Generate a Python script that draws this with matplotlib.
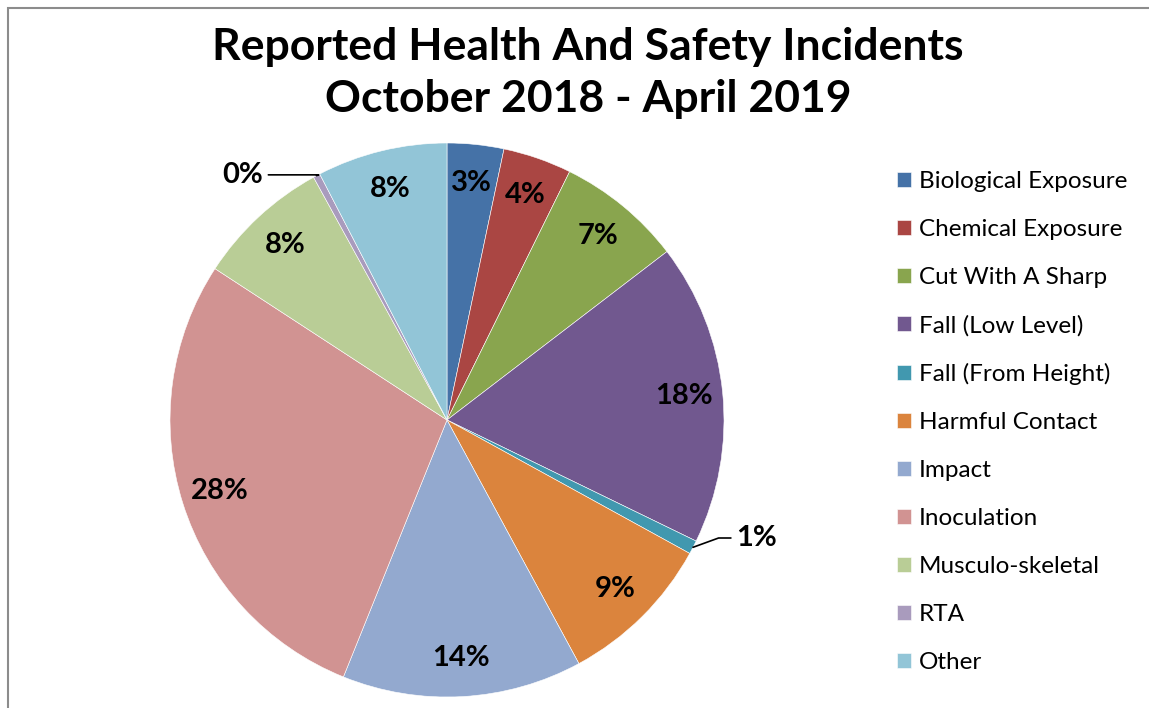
import numpy as np
import matplotlib
matplotlib.use("Agg")
import matplotlib.pyplot as plt
from matplotlib.patches import Rectangle

plt.rcParams['font.family'] = ['Lato', 'DejaVu Sans']

categories = ["Biological Exposure", "Chemical Exposure", "Cut With A Sharp",
              "Fall (Low Level)", "Fall (From Height)", "Harmful Contact",
              "Impact", "Inoculation", "Musculo-skeletal", "RTA", "Other"]
values = [3.3, 4.0, 7.3, 17.6, 0.8, 9.1, 14.0, 28.1, 7.8, 0.4, 7.6]
colors = ["#4572A7", "#AA4643", "#89A54E", "#71588F", "#4198AF", "#DB843D",
          "#93A9CF", "#D19392", "#B9CD96", "#A99BBD", "#92C5D7"]
title = "Reported Health And Safety Incidents\nOctober 2018 - April 2019"

W, H = 1149, 708
fig = plt.figure(figsize=(W / 100, H / 100), dpi=100)
fig.patches.append(Rectangle((8 / W, -0.1), 1.2, (H - 7.5) / H + 0.1,
                             transform=fig.transFigure, fill=False,
                             edgecolor="#8c8c8c", linewidth=1.5))

ax = fig.add_axes([170 / W, 11 / H, 554 / W, 554 / H])
wedges, texts = ax.pie(values, colors=colors, startangle=90, counterclock=False,
                       wedgeprops=dict(edgecolor="white", linewidth=0.4))
ax.set_xlim(-1, 1)
ax.set_ylim(-1, 1)
ax.set_aspect('equal')

total = sum(values)
outside = {"Fall (From Height)": (1.045, -0.426, 'left'),
           "RTA": (-0.665, 0.885, 'right')}
for w, cat, v in zip(wedges, categories, values):
    lab = f"{round(v / total * 100):d}%"
    mid = np.deg2rad((w.theta1 + w.theta2) / 2)
    if cat in outside:
        tx, ty, ha = outside[cat]
        ex, ey = np.cos(mid), np.sin(mid)
        ax.annotate(lab, xy=(ex, ey), xytext=(tx, ty), ha=ha, va='center',
                    fontsize=21, fontweight='bold', annotation_clip=False,
                    arrowprops=dict(arrowstyle='-', color='black', lw=1.2,
                                    shrinkA=2, shrinkB=0,
                                    connectionstyle="angle,angleA=0,angleB=20,rad=0"))
    else:
        r = 0.86
        ax.text(r * np.cos(mid), r * np.sin(mid), lab, ha='center', va='center',
                fontsize=21, fontweight='bold')

fig.text(588 / W, 1 - 73 / H, title, ha='center', va='center', fontsize=32,
         fontweight='bold', linespacing=1.38)

leg = fig.legend(wedges, categories, loc='upper left',
                 bbox_to_anchor=(885 / W, 1 - 159 / H), frameon=False,
                 fontsize=17.5, handlelength=0.55, handleheight=0.55,
                 handletextpad=0.35, labelspacing=1.107, borderpad=0)

fig.savefig("out.png", dpi=100)
